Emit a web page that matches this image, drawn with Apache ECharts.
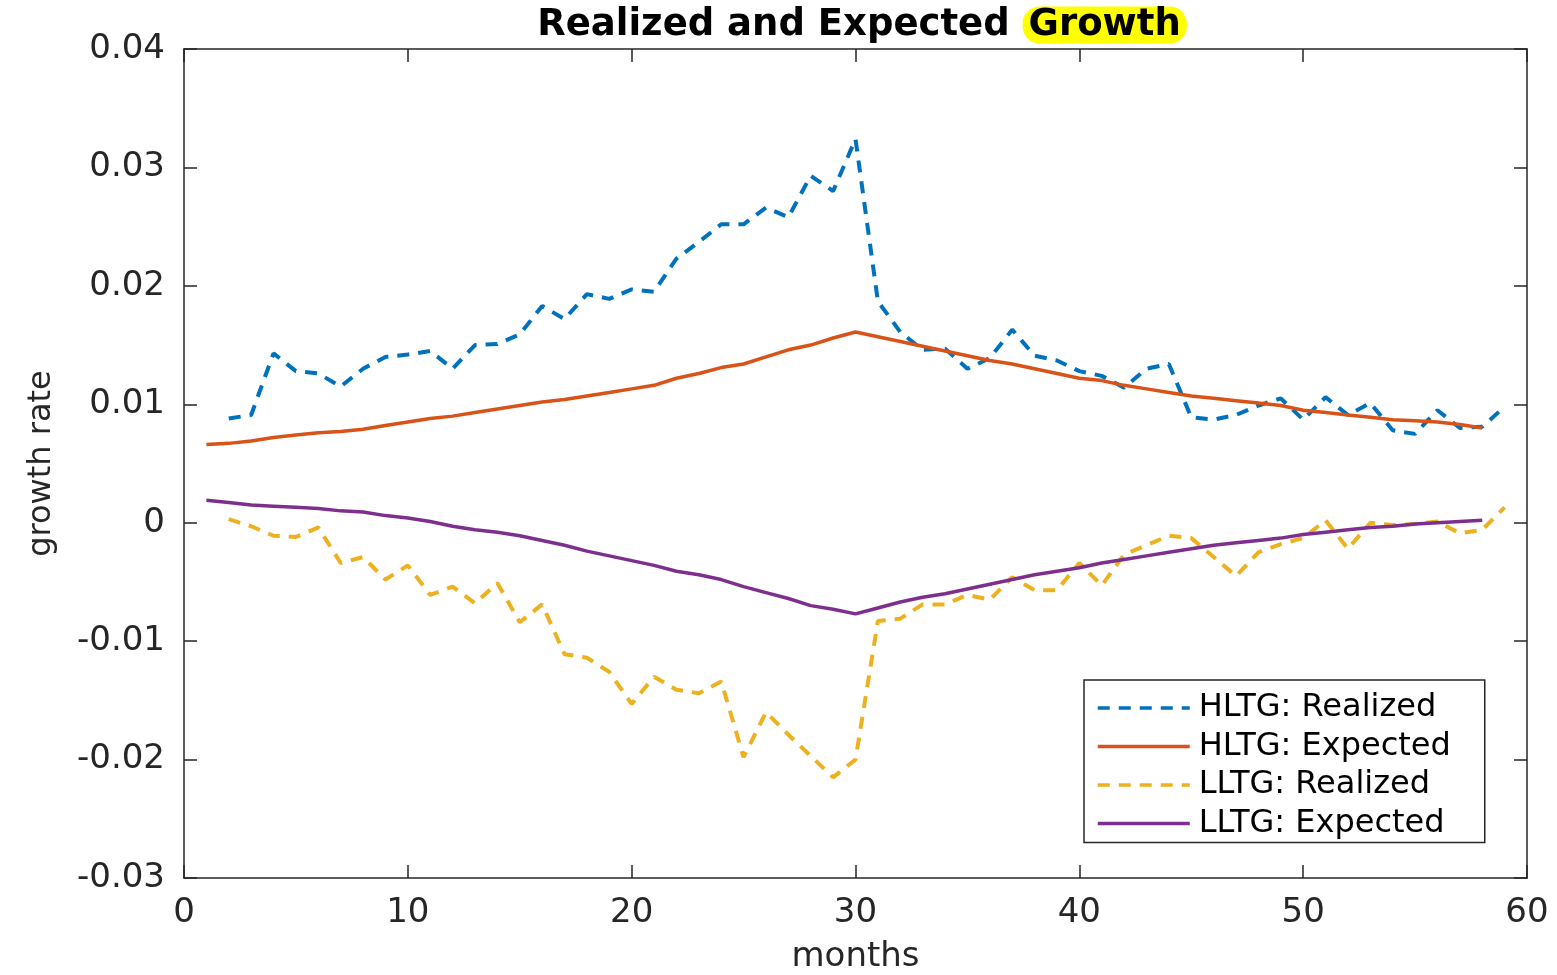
<!DOCTYPE html>
<html>
<head>
<meta charset="utf-8">
<script src="https://cdn.jsdelivr.net/npm/echarts@6/dist/echarts.min.js"></script>
<style>
html,body{margin:0;padding:0;background:#fff;}
#chart{width:1557px;height:975px;}
</style>
</head>
<body>
<div id="chart"></div>
<script>
// ---- data ----
const titleMain = 'Realized and Expected ';
const titleHighlight = 'Growth';
const xName = 'months';
const yName = 'growth rate';
const seriesNames = ['HLTG: Realized', 'HLTG: Expected', 'LLTG: Realized', 'LLTG: Expected'];
const xTicks = [0, 10, 20, 30, 40, 50, 60];
const yTicks = [-0.03, -0.02, -0.01, 0, 0.01, 0.02, 0.03, 0.04];

const realizedStartMonth = 2;   // realized series: months 2..59
const expectedStartMonth = 1;   // expected series: months 1..58

const hltgRealized = [
  0.0088, 0.0091, 0.0143, 0.0128, 0.0126, 0.0115, 0.0130, 0.0140, 0.0142, 0.0145,
  0.0130, 0.0150, 0.0151, 0.0159, 0.0183, 0.0172, 0.0193, 0.0189, 0.0197, 0.0195,
  0.0223, 0.0237, 0.0252, 0.0252, 0.0266, 0.0258, 0.0293, 0.0280, 0.0324, 0.0187,
  0.0161, 0.0146, 0.0147, 0.0130, 0.0139, 0.0163, 0.0141, 0.0137, 0.0128, 0.0124,
  0.0114, 0.0130, 0.0134, 0.0089, 0.0087, 0.0091, 0.0099, 0.0105, 0.0087, 0.0106,
  0.0091, 0.0101, 0.0078, 0.0075, 0.0095, 0.0080, 0.0081, 0.0098
];
const hltgExpected = [
  0.0066, 0.0067, 0.0069, 0.0072, 0.0074, 0.0076, 0.0077, 0.0079, 0.0082, 0.0085,
  0.0088, 0.0090, 0.0093, 0.0096, 0.0099, 0.0102, 0.0104, 0.0107, 0.0110, 0.0113,
  0.0116, 0.0122, 0.0126, 0.0131, 0.0134, 0.0140, 0.0146, 0.0150, 0.0156, 0.0161,
  0.0157, 0.0153, 0.0149, 0.0145, 0.0141, 0.0137, 0.0134, 0.0130, 0.0126, 0.0122,
  0.0120, 0.0116, 0.0113, 0.0110, 0.0107, 0.0105, 0.0103, 0.0101, 0.0099, 0.0095,
  0.0093, 0.0091, 0.0089, 0.0087, 0.0086, 0.0085, 0.0083, 0.0080
];
const lltgRealized = [
  0.0003, -0.0003, -0.0011, -0.0012, -0.0004, -0.0034, -0.0029, -0.0048, -0.0036, -0.0061,
  -0.0054, -0.0068, -0.0051, -0.0084, -0.0069, -0.0111, -0.0114, -0.0126, -0.0153, -0.0130,
  -0.0141, -0.0144, -0.0134, -0.0198, -0.0160, -0.0179, -0.0197, -0.0215, -0.0200, -0.0083,
  -0.0081, -0.0069, -0.0069, -0.0061, -0.0065, -0.0046, -0.0057, -0.0057, -0.0034, -0.0053,
  -0.0027, -0.0019, -0.0011, -0.0013, -0.0029, -0.0045, -0.0025, -0.0018, -0.0013, 0.0002,
  -0.0022, 0.0000, -0.0002, -0.0001, 0.0001, -0.0009, -0.0006, 0.0013
];
const lltgExpected = [
  0.0019, 0.0017, 0.0015, 0.0014, 0.0013, 0.0012, 0.0010, 0.0009, 0.0006, 0.0004,
  0.0001, -0.0003, -0.0006, -0.0008, -0.0011, -0.0015, -0.0019, -0.0024, -0.0028, -0.0032,
  -0.0036, -0.0041, -0.0044, -0.0048, -0.0054, -0.0059, -0.0064, -0.0070, -0.0073, -0.0077,
  -0.0072, -0.0067, -0.0063, -0.0060, -0.0056, -0.0052, -0.0048, -0.0044, -0.0041, -0.0038,
  -0.0034, -0.0031, -0.0028, -0.0025, -0.0022, -0.0019, -0.0017, -0.0015, -0.0013, -0.0010,
  -0.0008, -0.0006, -0.0004, -0.0003, -0.0001, 0.0000, 0.0001, 0.0002
];

// ---- build chart ----
const pairs = (arr, start) => arr.map((v, i) => [start + i, v]);
const colors = ['#0072BD', '#D95319', '#EDB120', '#7E2F8E'];
const axisColor = '#262626';
const FONT = 'DejaVu Sans';

const fmtY = v => Math.abs(v) < 1e-9 ? '0' : v.toFixed(2);

const xMin = xTicks[0], xMax = xTicks[xTicks.length - 1], xInt = xTicks[1] - xTicks[0];
const yMin = yTicks[0], yMax = yTicks[yTicks.length - 1], yInt = 0.01;

const baseX = {
  type: 'value', min: xMin, max: xMax, interval: xInt,
  axisLine: { show: true, onZero: false, lineStyle: { color: axisColor, width: 1.5 } },
  axisTick: { show: true, inside: true, length: 13, lineStyle: { color: axisColor, width: 1.5 } },
  splitLine: { show: false }
};
const baseY = {
  type: 'value', min: yMin, max: yMax, interval: yInt,
  axisLine: { show: true, onZero: false, lineStyle: { color: axisColor, width: 1.5 } },
  axisTick: { show: true, inside: true, length: 13, lineStyle: { color: axisColor, width: 1.5 } },
  splitLine: { show: false }
};

const chart = echarts.init(document.getElementById('chart'), null, { renderer: 'canvas' });
const option = {
  animation: false,
  backgroundColor: '#fff',
  textStyle: { fontFamily: FONT },
  graphic: [{
    type: 'text', x: 862, y: 5,
    style: {
      text: '{a|' + titleMain + '}{g|' + titleHighlight + '}',
      align: 'center',
      verticalAlign: 'top',
      rich: {
        a: { fontFamily: FONT, fontWeight: 'bold', fontSize: 37, fill: '#000', lineHeight: 40 },
        g: { fontFamily: FONT, fontWeight: 'bold', fontSize: 37, fill: '#000', lineHeight: 40,
             backgroundColor: '#FFFF00', borderRadius: 17, padding: [0, 6, 0, 6] }
      }
    }
  }],
  grid: { left: 184, right: 30, top: 49, bottom: 97, containLabel: false, outerBoundsMode: 'none' },
  legend: {
    orient: 'vertical', left: 1084, top: 680,
    data: seriesNames,
    itemWidth: 92, itemHeight: 14, itemGap: 6.5,
    padding: [12, 12, 3, 12],
    borderColor: axisColor, borderWidth: 1.5, backgroundColor: '#fff',
    itemStyle: { opacity: 0 },
    lineStyle: { width: 3.5 },
    textStyle: { fontFamily: FONT, fontSize: 32, color: '#000', lineHeight: 32, width: 274, padding: [0, 0, 0, 4] }
  },
  xAxis: [
    Object.assign({}, baseX, {
      position: 'bottom',
      name: xName, nameLocation: 'middle', nameGap: 62,
      nameTextStyle: { fontFamily: FONT, fontSize: 34, color: axisColor },
      axisLabel: { fontFamily: FONT, fontSize: 34, color: axisColor, margin: 18 }
    }),
    Object.assign({}, baseX, { position: 'top', axisLabel: { show: false } })
  ],
  yAxis: [
    Object.assign({}, baseY, {
      position: 'left',
      name: yName, nameLocation: 'middle', nameGap: 126,
      nameTextStyle: { fontFamily: FONT, fontSize: 32, color: axisColor },
      axisLabel: { fontFamily: FONT, fontSize: 34, color: axisColor, margin: 19, formatter: fmtY }
    }),
    Object.assign({}, baseY, { position: 'right', axisLabel: { show: false } })
  ],
  series: [
    { name: seriesNames[0], type: 'line', data: pairs(hltgRealized, realizedStartMonth),
      showSymbol: false, symbol: 'none', color: colors[0],
      lineStyle: { color: colors[0], width: 4, type: [12, 9] } },
    { name: seriesNames[1], type: 'line', data: pairs(hltgExpected, expectedStartMonth),
      showSymbol: false, symbol: 'none', color: colors[1],
      lineStyle: { color: colors[1], width: 3.5 } },
    { name: seriesNames[2], type: 'line', data: pairs(lltgRealized, realizedStartMonth),
      showSymbol: false, symbol: 'none', color: colors[2],
      lineStyle: { color: colors[2], width: 4, type: [12, 9] } },
    { name: seriesNames[3], type: 'line', data: pairs(lltgExpected, expectedStartMonth),
      showSymbol: false, symbol: 'none', color: colors[3],
      lineStyle: { color: colors[3], width: 3.5 } }
  ]
};
chart.setOption(option);
</script>
</body>
</html>
